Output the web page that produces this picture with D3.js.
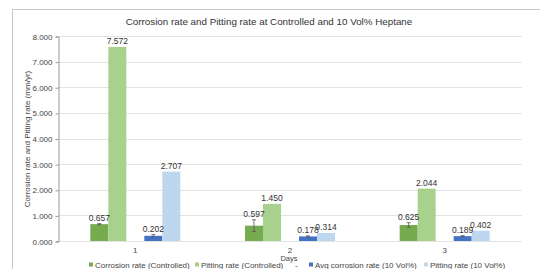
<!DOCTYPE html>
<html>
<head>
<meta charset="utf-8">
<script src="https://cdn.jsdelivr.net/npm/d3@7"></script>
<style>
  body { margin: 0; background: #fff; }
  svg { display: block; font-family: "Liberation Sans", Arial, sans-serif; }
</style>
</head>
<body>
<div id="chart"></div>
<script>
// chart data
var days = ["1", "2", "3"];
var seriesNames = ["Corrosion rate (Controlled)", "Pitting rate (Controlled)", "-", "Avg corrosion rate (10 Vol%)", "Pitting rate (10 Vol%)"];
var corrosionControlled = [0.657, 0.597, 0.625];
var pittingControlled = [7.572, 1.450, 2.044];
var blankSeries = [null, null, null];
var avgCorrosion10 = [0.202, 0.178, 0.189];
var pitting10 = [2.707, 0.314, 0.402];
var corrosionControlledErr = [0.02, 0.23, 0.09];
var avgCorrosion10Err = [0.05, 0.02, 0.02];
var yTicks = [0, 1, 2, 3, 4, 5, 6, 7, 8];

var colors = ["#77ab4f", "#a9d18e", "#ffffff", "#4472c4", "#bdd7ee"];

var seriesValues = [corrosionControlled, pittingControlled, blankSeries, avgCorrosion10, pitting10];
var seriesErrs = [corrosionControlledErr, null, null, avgCorrosion10Err, null];

var width = 540, height = 269;
var margin = { top: 36, right: 18, bottom: 28, left: 58 };

var svg = d3.select("#chart").append("svg")
    .attr("width", width)
    .attr("height", height);

// outer chart border
svg.append("rect")
    .attr("x", 12.5).attr("y", 9.5)
    .attr("width", 560).attr("height", 300)
    .attr("fill", "none")
    .attr("stroke", "#c8c8c8");

svg.append("text")
    .attr("x", 269).attr("y", 25)
    .attr("text-anchor", "middle")
    .attr("font-size", "9.8px")
    .attr("fill", "#333")
    .text("Corrosion rate and Pitting rate at Controlled and 10 Vol% Heptane");

var x0 = d3.scaleBand().domain(days).range([margin.left, width - margin.right]);
var bw = x0.bandwidth();
var x1 = d3.scaleBand().domain(d3.range(seriesNames.length)).range([bw / 2 - 45, bw / 2 + 45]);
var y = d3.scaleLinear().domain([0, 8]).range([241, 36]);

// gridlines
svg.append("g").selectAll("line")
    .data(yTicks)
    .join("line")
    .attr("x1", margin.left).attr("x2", width - margin.right)
    .attr("y1", d => Math.round(y(d)) + 0.5).attr("y2", d => Math.round(y(d)) + 0.5)
    .attr("stroke", "#e3e3e3");

// y axis
var yAxis = svg.append("g")
    .attr("transform", "translate(" + (margin.left + 0.5) + ",0.5)")
    .call(d3.axisLeft(y).tickValues(yTicks).tickFormat(d3.format(".3f")).tickSize(3).tickPadding(3));
yAxis.select(".domain").attr("stroke", "#999");
yAxis.selectAll(".tick line").attr("stroke", "#999");
yAxis.selectAll("text").attr("font-size", "8px").attr("fill", "#444").attr("font-family", "Liberation Sans, Arial, sans-serif");

svg.append("text")
    .attr("transform", "translate(30,139) rotate(-90)")
    .attr("text-anchor", "middle")
    .attr("font-size", "8px")
    .attr("fill", "#444")
    .text("Corrosion rate and Pitting rate  (mm/yr)");

// bars
var bars = [];
seriesValues.forEach(function (vals, s) {
  vals.forEach(function (v, i) {
    if (v !== null) bars.push({ s: s, day: days[i], v: v, err: seriesErrs[s] ? seriesErrs[s][i] : 0 });
  });
});

svg.append("g").selectAll("rect")
    .data(bars)
    .join("rect")
    .attr("x", d => x0(d.day) + x1(d.s))
    .attr("y", d => y(d.v))
    .attr("width", x1.bandwidth())
    .attr("height", d => y(0) - y(d.v))
    .attr("fill", d => colors[d.s]);

// error bars
var errG = svg.append("g").attr("stroke", "#555").attr("stroke-width", 0.8);
bars.filter(d => d.err > 0).forEach(function (d) {
  var cx = x0(d.day) + x1(d.s) + x1.bandwidth() / 2;
  errG.append("line").attr("x1", cx).attr("x2", cx).attr("y1", y(d.v + d.err)).attr("y2", y(d.v - d.err));
  errG.append("line").attr("x1", cx - 2).attr("x2", cx + 2).attr("y1", y(d.v + d.err)).attr("y2", y(d.v + d.err));
  errG.append("line").attr("x1", cx - 2).attr("x2", cx + 2).attr("y1", y(d.v - d.err)).attr("y2", y(d.v - d.err));
});

// data labels
svg.append("g").selectAll("text")
    .data(bars)
    .join("text")
    .attr("x", d => x0(d.day) + x1(d.s) + x1.bandwidth() / 2)
    .attr("y", d => y(d.v + d.err) - 3)
    .attr("text-anchor", "middle")
    .attr("font-size", "8.5px")
    .attr("fill", "#333")
    .text(d => d3.format(".3f")(d.v));

// x axis labels
svg.append("g").selectAll("text")
    .data(days)
    .join("text")
    .attr("x", d => x0(d) + bw / 2)
    .attr("y", 253)
    .attr("text-anchor", "middle")
    .attr("font-size", "8px")
    .attr("fill", "#444")
    .text(d => d);

svg.append("text")
    .attr("x", 289).attr("y", 261)
    .attr("text-anchor", "middle")
    .attr("font-size", "7.5px")
    .attr("fill", "#444")
    .text("Days");

// legend
var legendX = [89, 195, 295, 309, 424];
var leg = svg.append("g");
seriesNames.forEach(function (name, s) {
  if (name === "-") {
    leg.append("text").attr("x", legendX[s]).attr("y", 268).attr("font-size", "8px").attr("fill", "#444").text("-");
    return;
  }
  leg.append("rect").attr("x", legendX[s]).attr("y", 262.5).attr("width", 4).attr("height", 4).attr("fill", colors[s]);
  leg.append("text").attr("x", legendX[s] + 6).attr("y", 268).attr("font-size", "8px").attr("fill", "#444").text(name);
});
</script>
</body>
</html>
